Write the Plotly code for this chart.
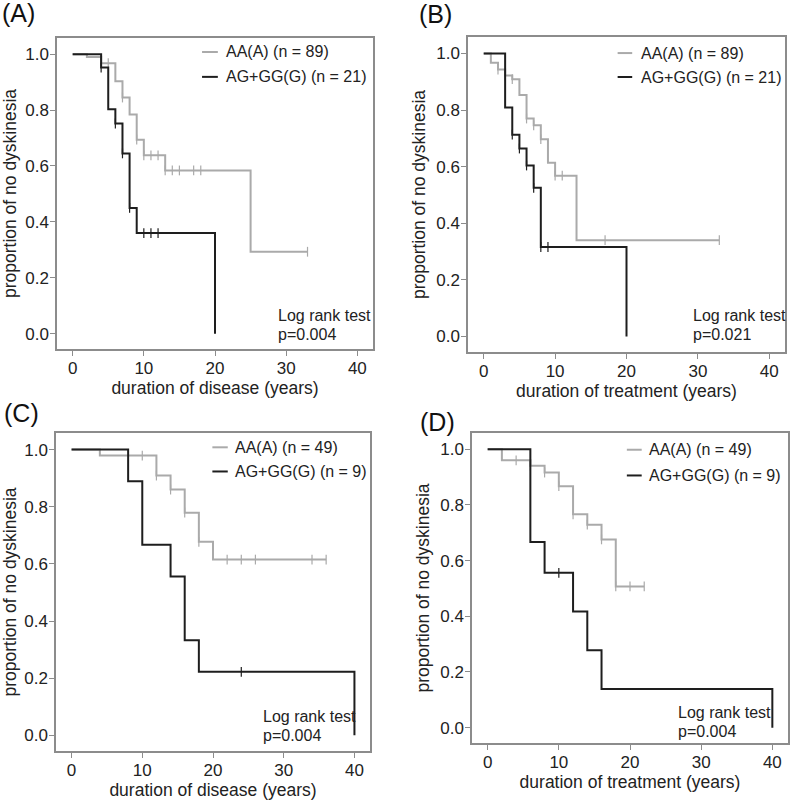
import plotly.graph_objects as go

# ---------------- data (Kaplan-Meier step curves) ----------------
# Panel A: duration of disease, n = 89 / 21
a_AA_t = [0, 2, 4, 6, 7, 8, 9, 10, 13, 25, 33]
a_AA_s = [1.0, 0.990, 0.968, 0.903, 0.845, 0.784, 0.694, 0.638, 0.584, 0.293, 0.293]
a_AA_cens_t = [4, 5, 7, 9, 10, 11, 12, 13, 14, 15, 17, 18, 33]
a_G_t = [0, 4, 5, 6, 7, 8, 9, 20]
a_G_s = [1.0, 0.952, 0.803, 0.752, 0.645, 0.450, 0.360, 0.0]
a_G_cens_t = [4, 6, 7, 8, 10, 11, 12]

# Panel B: duration of treatment, n = 89 / 21
b_AA_t = [0, 1, 2, 3, 4, 5, 6, 7, 8, 9, 10, 13, 33]
b_AA_s = [1.0, 0.967, 0.943, 0.922, 0.909, 0.853, 0.770, 0.746, 0.697, 0.614, 0.568, 0.340, 0.340]
b_AA_cens_t = [2, 3, 4, 6, 7, 8, 10, 11, 17, 33]
b_G_t = [0, 3, 4, 5, 6, 7, 8, 20]
b_G_s = [1.0, 0.809, 0.713, 0.664, 0.604, 0.525, 0.316, 0.0]
b_G_cens_t = [4, 5, 6, 7, 8, 9]

# Panel C: duration of disease, n = 49 / 9
c_AA_t = [0, 4, 12, 14, 16, 18, 20, 36]
c_AA_s = [1.0, 0.979, 0.909, 0.860, 0.779, 0.677, 0.615, 0.615]
c_AA_cens_t = [10, 12, 14, 16, 18, 22, 24, 26, 34, 36]
c_G_t = [0, 8, 10, 14, 16, 18, 40]
c_G_s = [1.0, 0.889, 0.667, 0.556, 0.333, 0.222, 0.0]
c_G_cens_t = [24]

# Panel D: duration of treatment, n = 49 / 9
d_AA_t = [0, 2, 6, 8, 10, 12, 14, 16, 18, 22]
d_AA_s = [1.0, 0.960, 0.940, 0.916, 0.867, 0.766, 0.729, 0.676, 0.507, 0.507]
d_AA_cens_t = [4, 6, 8, 10, 12, 14, 16, 18, 20, 22]
d_G_t = [0, 6, 8, 12, 14, 16, 40]
d_G_s = [1.0, 0.667, 0.556, 0.417, 0.278, 0.139, 0.0]
d_G_cens_t = [10]

panel_labels = ["(A)", "(B)", "(C)", "(D)"]
x_titles = ["duration of disease (years)", "duration of treatment (years)",
            "duration of disease (years)", "duration of treatment (years)"]
y_title = "proportion of no dyskinesia"
legend_AA = ["AA(A) (n = 89)", "AA(A) (n = 89)", "AA(A) (n = 49)", "AA(A) (n = 49)"]
legend_G = ["AG+GG(G) (n = 21)", "AG+GG(G) (n = 21)", "AG+GG(G) (n = 9)", "AG+GG(G) (n = 9)"]
pvalues = ["p=0.004", "p=0.021", "p=0.004", "p=0.004"]
x_ticks = [0, 10, 20, 30, 40]
y_ticks = [0.0, 0.2, 0.4, 0.6, 0.8, 1.0]

panels = [
    (a_AA_t, a_AA_s, a_AA_cens_t, a_G_t, a_G_s, a_G_cens_t),
    (b_AA_t, b_AA_s, b_AA_cens_t, b_G_t, b_G_s, b_G_cens_t),
    (c_AA_t, c_AA_s, c_AA_cens_t, c_G_t, c_G_s, c_G_cens_t),
    (d_AA_t, d_AA_s, d_AA_cens_t, d_G_t, d_G_s, d_G_cens_t),
]

# ---------------- layout geometry ----------------
W, H = 790, 801
boxes = [  # left, right, top, bottom in px
    (57, 373, 38, 349),
    (468, 785, 37, 352),
    (56, 370, 433, 751),
    (472, 788, 433, 743),
]
legend_pos = [  # line x0, line x1, text x, y1, y2 in axis-domain fractions
    (0.459, 0.509, 0.528, 0.955, 0.875),
    (0.472, 0.518, 0.540, 0.949, 0.873),
    (0.498, 0.547, 0.565, 0.955, 0.879),
    (0.490, 0.537, 0.555, 0.946, 0.863),
]
logrank_pos = [
    (0.693, 0.107, 0.048),
    (0.705, 0.115, 0.055),
    (0.653, 0.108, 0.050),
    (0.647, 0.100, 0.037),
]
label_pos = [(0, 13), (417, 14), (2, 413), (418, 422)]

GRAY = "#aaaaaa"
BLACK = "#1e1e1e"
FRAME = "#8c8c8c"
TXT = "#222222"
FONT = "Liberation Sans, Arial, sans-serif"


def step_xy(t, s):
    xs, ys = [t[0]], [s[0]]
    for i in range(1, len(t)):
        xs += [t[i], t[i]]
        ys += [s[i - 1], s[i]]
    return xs, ys


def surv_at(t, s, x):
    v = s[0]
    for ti, si in zip(t, s):
        if ti <= x:
            v = si
    return v


fig = go.Figure()
annotations = []
shapes = []

for k, (aat, aas, aac, gt, gs, gc) in enumerate(panels):
    xa = "x" if k == 0 else f"x{k+1}"
    ya = "y" if k == 0 else f"y{k+1}"
    for t, s, c, col in [(aat, aas, aac, GRAY), (gt, gs, gc, BLACK)]:
        xs, ys = step_xy(t, s)
        fig.add_trace(go.Scatter(x=xs, y=ys, mode="lines", xaxis=xa, yaxis=ya,
                                 line=dict(color=col, width=2), showlegend=False,
                                 hoverinfo="skip"))
        cy = [surv_at(t, s, x) for x in c]
        fig.add_trace(go.Scatter(x=c, y=cy, mode="markers", xaxis=xa, yaxis=ya,
                                 marker=dict(symbol="line-ns-open", size=7, color=col,
                                             line=dict(color=col, width=1.2)),
                                 showlegend=False, hoverinfo="skip"))

    l, r, t_, b = boxes[k]
    dom_x = [l / W, r / W]
    dom_y = [1 - b / H, 1 - t_ / H]
    axcommon = dict(showgrid=False, zeroline=False, showline=True, mirror=True,
                    linecolor=FRAME, linewidth=1.5, ticks="outside", ticklen=5,
                    tickwidth=1.2, tickcolor=FRAME,
                    tickfont=dict(family=FONT, size=17, color=TXT))
    xkey = "xaxis" if k == 0 else f"xaxis{k+1}"
    ykey = "yaxis" if k == 0 else f"yaxis{k+1}"
    fig.update_layout(**{
        xkey: dict(domain=dom_x, range=[-2.2, 42.2], tickvals=x_ticks,
                   anchor=ya, ticklabelstandoff=-2,
                   title=dict(text=x_titles[k], standoff=2,
                              font=dict(family=FONT, size=17.5, color=TXT)),
                   **axcommon),
        ykey: dict(domain=dom_y, range=[-0.055, 1.058], tickvals=y_ticks,
                   tickformat=".1f", anchor=xa, ticklabelstandoff=-2,
                   title=dict(text=y_title, standoff=6,
                              font=dict(family=FONT, size=17.5, color=TXT)),
                   **axcommon),
    })

    lx0, lx1, tx, y1, y2 = legend_pos[k]
    xd = f"{xa} domain"
    yd = f"{ya} domain"
    for yy, col, txt in [(y1, GRAY, legend_AA[k]), (y2, BLACK, legend_G[k])]:
        shapes.append(dict(type="line", xref=xd, yref=yd, x0=lx0, x1=lx1, y0=yy, y1=yy,
                           line=dict(color=col, width=2)))
        annotations.append(dict(xref=xd, yref=yd, x=tx, y=yy, text=txt, showarrow=False,
                                xanchor="left", yanchor="middle",
                                font=dict(family=FONT, size=16, color=TXT)))
    px_, ly1, ly2 = logrank_pos[k]
    annotations.append(dict(xref=xd, yref=yd, x=px_, y=ly1, text="Log rank test",
                            showarrow=False, xanchor="left", yanchor="middle",
                            font=dict(family=FONT, size=16, color=TXT)))
    annotations.append(dict(xref=xd, yref=yd, x=px_, y=ly2, text=pvalues[k],
                            showarrow=False, xanchor="left", yanchor="middle",
                            font=dict(family=FONT, size=16, color=TXT)))
    lxp, lyp = label_pos[k]
    annotations.append(dict(xref="paper", yref="paper", x=lxp / W, y=1 - lyp / H,
                            text=panel_labels[k], showarrow=False, xanchor="left",
                            yanchor="middle",
                            font=dict(family=FONT, size=25, color="#111111")))

fig.update_layout(width=W, height=H, margin=dict(l=0, r=0, t=0, b=0),
                  paper_bgcolor="white", plot_bgcolor="white",
                  annotations=annotations, shapes=shapes, showlegend=False)

fig.write_html("out.html", config={"displayModeBar": False},
               post_script="document.body.style.margin='0';")
